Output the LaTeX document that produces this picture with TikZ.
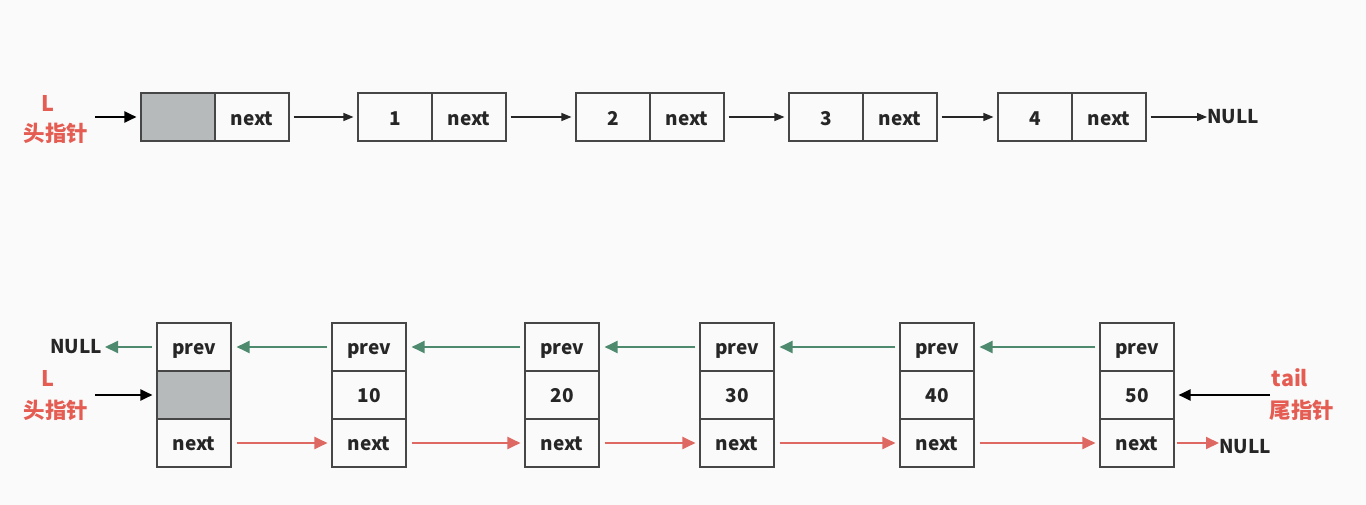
\documentclass[tikz,border=0pt]{standalone}
\usepackage{fontspec}
\setmainfont{Noto Sans CJK SC}
\usetikzlibrary{arrows.meta}
\definecolor{bg}{RGB}{250,250,250}
\definecolor{lblred}{RGB}{228,92,82}
\definecolor{arrred}{RGB}{222,104,98}
\definecolor{arrgreen}{RGB}{78,138,110}
\definecolor{cellgray}{RGB}{182,186,186}
\definecolor{edge}{RGB}{70,70,70}
\tikzset{
  cell/.style={draw=edge, line width=1.1pt, minimum width=74pt, minimum height=48pt, inner sep=0pt, text height=14pt, text depth=0pt, font=\fontsize{19}{21}\selectfont\bfseries, text=black!85},
  topcell/.style={cell, text height=18pt},
  headcell/.style={cell, fill=cellgray},
  toparr/.style={-{Triangle[length=10pt,width=8pt]}, line width=1.2pt, black!85, shorten <=4pt, shorten >=4pt},
  blkarr/.style={-{Triangle[length=12pt,width=11pt]}, line width=2pt, black, shorten >=4pt},
  grnarr/.style={-{Triangle[length=13pt,width=12pt]}, line width=2pt, arrgreen, shorten <=4pt, shorten >=5pt},
  redarr/.style={-{Triangle[length=13pt,width=12pt]}, line width=2pt, arrred, shorten <=5pt, shorten >=4pt},
  lbl/.style={inner sep=0pt, text=lblred, font=\fontsize{21.5}{23}\selectfont\bfseries},
  nulltxt/.style={inner sep=0pt, text=black!85, font=\fontsize{19}{21}\selectfont\bfseries}
}
\begin{document}
\begin{tikzpicture}[x=1pt,y=-1pt]
\fill[bg] (0,0) rectangle (1366,505);
\useasboundingbox (0,0) rectangle (1366,505);

% ---------- top singly linked list ----------
\node[lbl] (tL) at (48,103) {L};
\node[lbl] (tLh) at (56,133) {头指针};
\coordinate (tLs) at (95,117);

\node[headcell] (a0) at (178,117) {};
\node[topcell] (b0) at (252,117) {next};
\node[topcell] (a1) at (395,117) {1};
\node[topcell] (b1) at (469,117) {next};
\node[topcell] (a2) at (613,117) {2};
\node[topcell] (b2) at (687,117) {next};
\node[topcell] (a3) at (826,117) {3};
\node[topcell] (b3) at (900,117) {next};
\node[topcell] (a4) at (1035,117) {4};
\node[topcell] (b4) at (1109,117) {next};
\node[nulltxt, anchor=west] (tnull) at (1207,117) {NULL};

\draw[blkarr] (tLs) -- (a0.west);
\draw[toparr] (b0.east) -- (a1.west);
\draw[toparr] (b1.east) -- (a2.west);
\draw[toparr] (b2.east) -- (a3.west);
\draw[toparr] (b3.east) -- (a4.west);
\draw[toparr, shorten >=0pt] (b4.east) -- (tnull.west);

% ---------- bottom doubly linked list ----------
\foreach \i/\x/\v in {0/194/,1/369/10,2/562/20,3/737/30,4/937/40,5/1137/50}{
  \node[cell] (p\i) at (\x,347) {prev};
  \node[cell] (d\i) at (\x,395) {\v};
  \node[cell] (n\i) at (\x,443) {next};
}
\node[headcell] at (d0) {};

\node[nulltxt, anchor=east] (lnull) at (102,347) {NULL};
\node[nulltxt, anchor=west] (rnull) at (1219,447) {NULL};

\draw[grnarr, shorten >=3pt] (p0.west) -- (lnull.east);
\draw[grnarr] (p1.west) -- (p0.east);
\draw[grnarr] (p2.west) -- (p1.east);
\draw[grnarr] (p3.west) -- (p2.east);
\draw[grnarr] (p4.west) -- (p3.east);
\draw[grnarr] (p5.west) -- (p4.east);

\draw[redarr] (n0.east) -- (n1.west);
\draw[redarr] (n1.east) -- (n2.west);
\draw[redarr] (n2.east) -- (n3.west);
\draw[redarr] (n3.east) -- (n4.west);
\draw[redarr] (n4.east) -- (n5.west);
\draw[redarr, shorten <=2pt, shorten >=0pt] (n5.east) -- (rnull.west |- n5.east);

\node[lbl] (bL) at (48,378) {L};
\node[lbl] (bLh) at (56,410) {头指针};
\coordinate (bLs) at (95,395);
\draw[blkarr] (bLs) -- (d0.west);

\node[lbl] (tt) at (1290,378) {tail};
\node[lbl] (tth) at (1302,410) {尾指针};
\coordinate (tts) at (1270,395);
\draw[blkarr] (tts) -- (d5.east);
\end{tikzpicture}
\end{document}
